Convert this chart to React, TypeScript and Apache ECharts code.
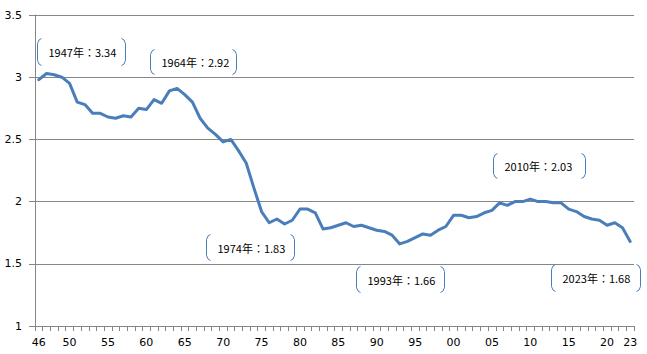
import React, { useEffect, useRef } from "react";
import * as echarts from "echarts";

const years: number[] = [
  1946, 1947, 1948, 1949, 1950, 1951, 1952, 1953, 1954, 1955,
  1956, 1957, 1958, 1959, 1960, 1961, 1962, 1963, 1964, 1965,
  1966, 1967, 1968, 1969, 1970, 1971, 1972, 1973, 1974, 1975,
  1976, 1977, 1978, 1979, 1980, 1981, 1982, 1983, 1984, 1985,
  1986, 1987, 1988, 1989, 1990, 1991, 1992, 1993, 1994, 1995,
  1996, 1997, 1998, 1999, 2000, 2001, 2002, 2003, 2004, 2005,
  2006, 2007, 2008, 2009, 2010, 2011, 2012, 2013, 2014, 2015,
  2016, 2017, 2018, 2019, 2020, 2021, 2022, 2023,
];

const fertility: number[] = [
  2.98, 3.03, 3.02, 3.0, 2.95, 2.8, 2.78, 2.71, 2.71, 2.68,
  2.67, 2.69, 2.68, 2.75, 2.74, 2.82, 2.79, 2.89, 2.91, 2.86,
  2.8, 2.67, 2.59, 2.54, 2.48, 2.5, 2.41, 2.31, 2.11, 1.92,
  1.83, 1.86, 1.82, 1.85, 1.94, 1.94, 1.91, 1.78, 1.79, 1.81,
  1.83, 1.8, 1.81, 1.79, 1.77, 1.76, 1.73, 1.66, 1.68, 1.71,
  1.74, 1.73, 1.77, 1.8, 1.89, 1.89, 1.87, 1.88, 1.91, 1.93,
  1.99, 1.97, 2.0, 2.0, 2.02, 2.0, 2.0, 1.99, 1.99, 1.94,
  1.92, 1.88, 1.86, 1.85, 1.81, 1.83, 1.79, 1.68,
];

const yTicks = { min: 1, max: 3.5, interval: 0.5 };

const noteYears: number[] = [1947, 1964, 1974, 1993, 2010, 2023];
const noteValues: number[] = [3.34, 2.92, 1.83, 1.66, 2.03, 1.68];

// layout of the callout boxes relative to the anchor point (pixels)
const noteLayout: { dx: number; dy: number; w: number; h: number }[] = [
  { dx: -10, dy: -35, w: 88, h: 27 },
  { dx: -27, dy: -39, w: 86, h: 25 },
  { dx: -48, dy: 46, w: 88, h: 26 },
  { dx: -44, dy: 22, w: 88, h: 26 },
  { dx: -37, dy: -46, w: 92, h: 25 },
  { dx: -79, dy: 23, w: 89, h: 27 },
];

const LINE_COLOR = "#4A7EBB";
const GRID_COLOR = "#868686";
const AXIS_FONT = "'DejaVu Sans', Verdana, sans-serif";
const NOTE_FONT = "'Noto Sans CJK JP', sans-serif";

function yy(y: number): string {
  return String(y % 100).padStart(2, "0");
}

export default function App() {
  const ref = useRef<HTMLDivElement>(null);

  useEffect(() => {
    if (!ref.current) return;
    const chart = echarts.init(ref.current, undefined, { renderer: "svg" });
    const cats = years.map(yy);
    const lastIdx = years.length - 1;

    chart.setOption({
      animation: false,
      backgroundColor: "#ffffff",
      grid: { left: 35, right: 13, top: 15, bottom: 28, containLabel: false },
      xAxis: {
        type: "category",
        data: cats,
        boundaryGap: true,
        axisLine: { show: true, lineStyle: { color: GRID_COLOR, width: 1 } },
        axisTick: {
          show: true,
          interval: 0,
          length: 5,
          lineStyle: { color: GRID_COLOR, width: 1 },
        },
        axisLabel: {
          interval: (idx: number) =>
            idx === 0 || idx === lastIdx || years[idx] % 5 === 0,
          color: "#000000",
          fontFamily: AXIS_FONT,
          fontSize: 11,
          margin: 11,
        },
        splitLine: { show: false },
      },
      yAxis: {
        type: "value",
        min: yTicks.min,
        max: yTicks.max,
        interval: yTicks.interval,
        axisLine: { show: true, lineStyle: { color: GRID_COLOR, width: 1 } },
        axisTick: {
          show: true,
          length: 6,
          lineStyle: { color: GRID_COLOR, width: 1 },
        },
        axisLabel: {
          color: "#000000",
          fontFamily: AXIS_FONT,
          fontSize: 11,
          margin: 13,
        },
        splitLine: { show: true, lineStyle: { color: GRID_COLOR, width: 1 } },
      },
      series: [
        {
          type: "line",
          data: fertility,
          symbol: "none",
          smooth: false,
          lineStyle: { color: LINE_COLOR, width: 3, cap: "round", join: "round" },
          z: 3,
        },
      ],
    });

    const graphics: any[] = [];
    noteYears.forEach((yr, i) => {
      const idx = years.indexOf(yr);
      const p = chart.convertToPixel({ seriesIndex: 0 }, [idx, fertility[idx]]) as number[];
      const lay = noteLayout[i];
      const l = Math.round(p[0] + lay.dx) + 0.5;
      const t = Math.round(p[1] + lay.dy) + 0.5;
      const r = l + lay.w;
      const b = t + lay.h;
      const bracketStyle = { stroke: LINE_COLOR, lineWidth: 1, fill: null };
      graphics.push({
        type: "polyline",
        silent: true,
        z: 10,
        shape: {
          points: [
            [l + 4, t],
            [l + 1.5, t + 1.5],
            [l, t + 5],
            [l, b - 5],
            [l + 1.5, b - 1.5],
            [l + 4, b],
          ],
        },
        style: bracketStyle,
      });
      graphics.push({
        type: "polyline",
        silent: true,
        z: 10,
        shape: {
          points: [
            [r - 4, t],
            [r - 1.5, t + 1.5],
            [r, t + 5],
            [r, b - 5],
            [r - 1.5, b - 1.5],
            [r - 4, b],
          ],
        },
        style: bracketStyle,
      });
      graphics.push({
        type: "text",
        silent: true,
        z: 10,
        x: l + 11,
        y: (t + b) / 2,
        style: {
          text: `${yr}年：${noteValues[i].toFixed(2)}`,
          fill: "#000000",
          font: `11px ${NOTE_FONT}`,
          textAlign: "left",
          textVerticalAlign: "middle",
        },
      });
    });
    chart.setOption({ graphic: graphics });

    return () => {
      chart.dispose();
    };
  }, []);

  return (
    <div
      ref={ref}
      style={{ position: "fixed", left: 0, top: 0, width: 647, height: 354 }}
    />
  );
}
